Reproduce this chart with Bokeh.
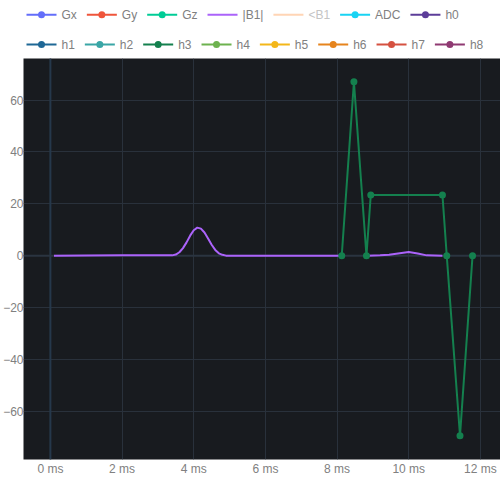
from bokeh.plotting import figure
from bokeh.layouts import column
from bokeh.models import Range1d, FixedTicker, Span, ColumnDataSource
from bokeh.core.properties import value
from bokeh.embed import file_html
from bokeh.resources import INLINE

nan = float("nan")

# ---- data ----
trace_names = ["Gx", "Gy", "Gz", "|B1|", "<B1", "ADC",
               "h0", "h1", "h2", "h3", "h4", "h5", "h6", "h7", "h8"]
trace_colors = ["#636efa", "#ef553b", "#00cc96", "#ab63fa", "#ffa15a", "#19d3f3",
                "#5c3d99", "#1f6896", "#3aa6a6", "#14804e", "#6db24f", "#f3b71a",
                "#e6841d", "#d55140", "#8f3a72"]

b1_t = [0.1, 1.0, 2.0, 3.0, 3.4, 3.5, 3.6, 3.7, 3.8, 3.9, 4.0, 4.1, 4.2, 4.3,
        4.4, 4.5, 4.6, 4.7, 4.8, 4.9, 6.0, 7.0, 8.12, nan,
        8.85, 9.2, 9.45, 9.75, 10.0, 10.25, 10.5, 10.94]
b1_v = [0.0, 0.05, 0.1, 0.1, 0.1, 0.4, 1.3, 2.9, 5.1, 7.7, 9.8, 10.8, 10.4, 8.9,
        6.6, 4.2, 2.2, 0.9, 0.3, 0.0, 0.0, 0.0, 0.0, nan,
        0.0, 0.1, 0.3, 0.9, 1.4, 0.8, 0.1, 0.0]

h3_t = [8.13, 8.47, 8.82, 8.94, 10.94, 11.06, 11.43, 11.78]
h3_v = [0.0, 67.0, 0.0, 23.4, 23.4, 0.0, -69.4, 0.0]

trace_data = {"|B1|": (b1_t, b1_v), "h3": (h3_t, h3_v)}
no_markers = ["|B1|", "<B1"]
legend_only = ["<B1"]

legend_rows = [["Gx", "Gy", "Gz", "|B1|", "<B1", "ADC", "h0"],
               ["h1", "h2", "h3", "h4", "h5", "h6", "h7", "h8"]]

x_ticks = [0, 2, 4, 6, 8, 10, 12]
x_tick_labels = ["0 ms", "2 ms", "4 ms", "6 ms", "8 ms", "10 ms", "12 ms"]
y_ticks = [-60, -40, -20, 0, 20, 40, 60]
y_tick_labels = ["\u221260", "\u221240", "\u221220", "0", "20", "40", "60"]

# ---- layout constants ----
FONT = "Liberation Sans"
TXT = "#808080"
TXT_OFF = "#c4c4c4"
W = 500
LH = 58      # legend strip height
MH = 442     # main figure height
FL = 21
FRAME_LEFT = 23   # where the y-axis labels actually push the frame
FB = 41

# ---- main figure ----
p = figure(width=W, height=MH, output_backend="svg", toolbar_location=None,
           x_range=Range1d(-0.75, 12.56), y_range=Range1d(-78.6, 76),
           min_border_left=FL, min_border_right=0, min_border_top=0,
           min_border_bottom=FB)
p.background_fill_color = "#181b1f"
p.border_fill_color = "white"
p.outline_line_color = None

for ax in (p.xaxis[0], p.yaxis[0]):
    ax.axis_line_color = None
    ax.major_tick_line_color = None
    ax.minor_tick_line_color = None
    ax.major_tick_out = 0
    ax.major_tick_in = 0
    ax.axis_label_standoff = 0
    ax.major_label_text_font = FONT
    ax.major_label_text_font_size = "12px"
    ax.major_label_text_color = TXT

p.xaxis.ticker = FixedTicker(ticks=x_ticks)
p.xaxis.major_label_overrides = dict(zip(x_ticks, x_tick_labels))
p.xaxis.major_label_standoff = 2
p.yaxis.ticker = FixedTicker(ticks=y_ticks)
p.yaxis.major_label_overrides = dict(zip(y_ticks, y_tick_labels))
p.yaxis.major_label_standoff = 0

p.xgrid.grid_line_color = "#29313b"
p.ygrid.grid_line_color = "#29313b"

p.add_layout(Span(location=0, dimension="height", line_color="#25384b",
                  line_width=2, level="underlay"))
p.add_layout(Span(location=0, dimension="width", line_color="#2a3440",
                  line_width=2, level="underlay"))

for name, col in zip(trace_names, trace_colors):
    if name in legend_only:
        continue
    xs, ys = trace_data.get(name, ([], []))
    p.line(x=xs, y=ys, line_color=col, line_width=2)
    if name not in no_markers:
        p.scatter(x=xs, y=ys, marker="circle", size=7, fill_color=col,
                  line_color=col, line_width=0)

# ---- legend strip (laid out in page-pixel units) ----
lf = figure(width=W, height=LH, output_backend="svg", toolbar_location=None,
            x_range=Range1d(FRAME_LEFT, W), y_range=Range1d(LH, 0),
            x_axis_type=None, y_axis_type=None,
            min_border_left=FRAME_LEFT, min_border_right=0, min_border_top=0,
            min_border_bottom=0)
lf.outline_line_color = None
lf.xgrid.visible = False
lf.ygrid.visible = False
lf.background_fill_color = "white"
lf.border_fill_color = "white"

# approximate advance widths of Liberation Sans at 12px
CW = {"G": 9.34, "x": 6.0, "y": 6.0, "z": 6.0, "|": 3.12, "B": 8.0, "<": 7.0,
      "A": 8.0, "D": 8.67, "C": 8.67, "h": 6.67}
GLYPH_W = 30
STANDOFF = 5
GAP = 10
ROW_X0 = 26
ROW_Y = [14.3, 44.0]

color_of = dict(zip(trace_names, trace_colors))
seg = dict(x0=[], x1=[], y=[], c=[], a=[])
mk = dict(x=[], y=[], c=[])
tx = dict(x=[], y=[], t=[], c=[])
for row, yc in zip(legend_rows, ROW_Y):
    x = ROW_X0
    for name in row:
        off = name in legend_only
        seg["x0"].append(x)
        seg["x1"].append(x + GLYPH_W)
        seg["y"].append(yc)
        seg["c"].append(color_of[name])
        seg["a"].append(0.45 if off else 1.0)
        if name not in no_markers:
            mk["x"].append(x + GLYPH_W / 2)
            mk["y"].append(yc)
            mk["c"].append(color_of[name])
        tx["x"].append(x + GLYPH_W + STANDOFF)
        tx["y"].append(yc)
        tx["t"].append(name)
        tx["c"].append(TXT_OFF if off else TXT)
        w = sum(CW.get(ch, 6.67) for ch in name)
        x += GLYPH_W + STANDOFF + w + GAP

lf.segment(x0="x0", x1="x1", y0="y", y1="y", line_color="c", line_alpha="a",
           line_width=2, source=ColumnDataSource(seg))
lf.scatter(x="x", y="y", marker="circle", size=7, fill_color="c", line_color="c",
           line_width=0, source=ColumnDataSource(mk))
lf.text(x="x", y="y", text="t", text_color="c", text_font=value(FONT),
        text_font_size="12px", text_baseline="middle", text_align="left",
        source=ColumnDataSource(tx))

layout = column(lf, p, spacing=0)
open("out.html", "w").write(file_html(layout, INLINE))
